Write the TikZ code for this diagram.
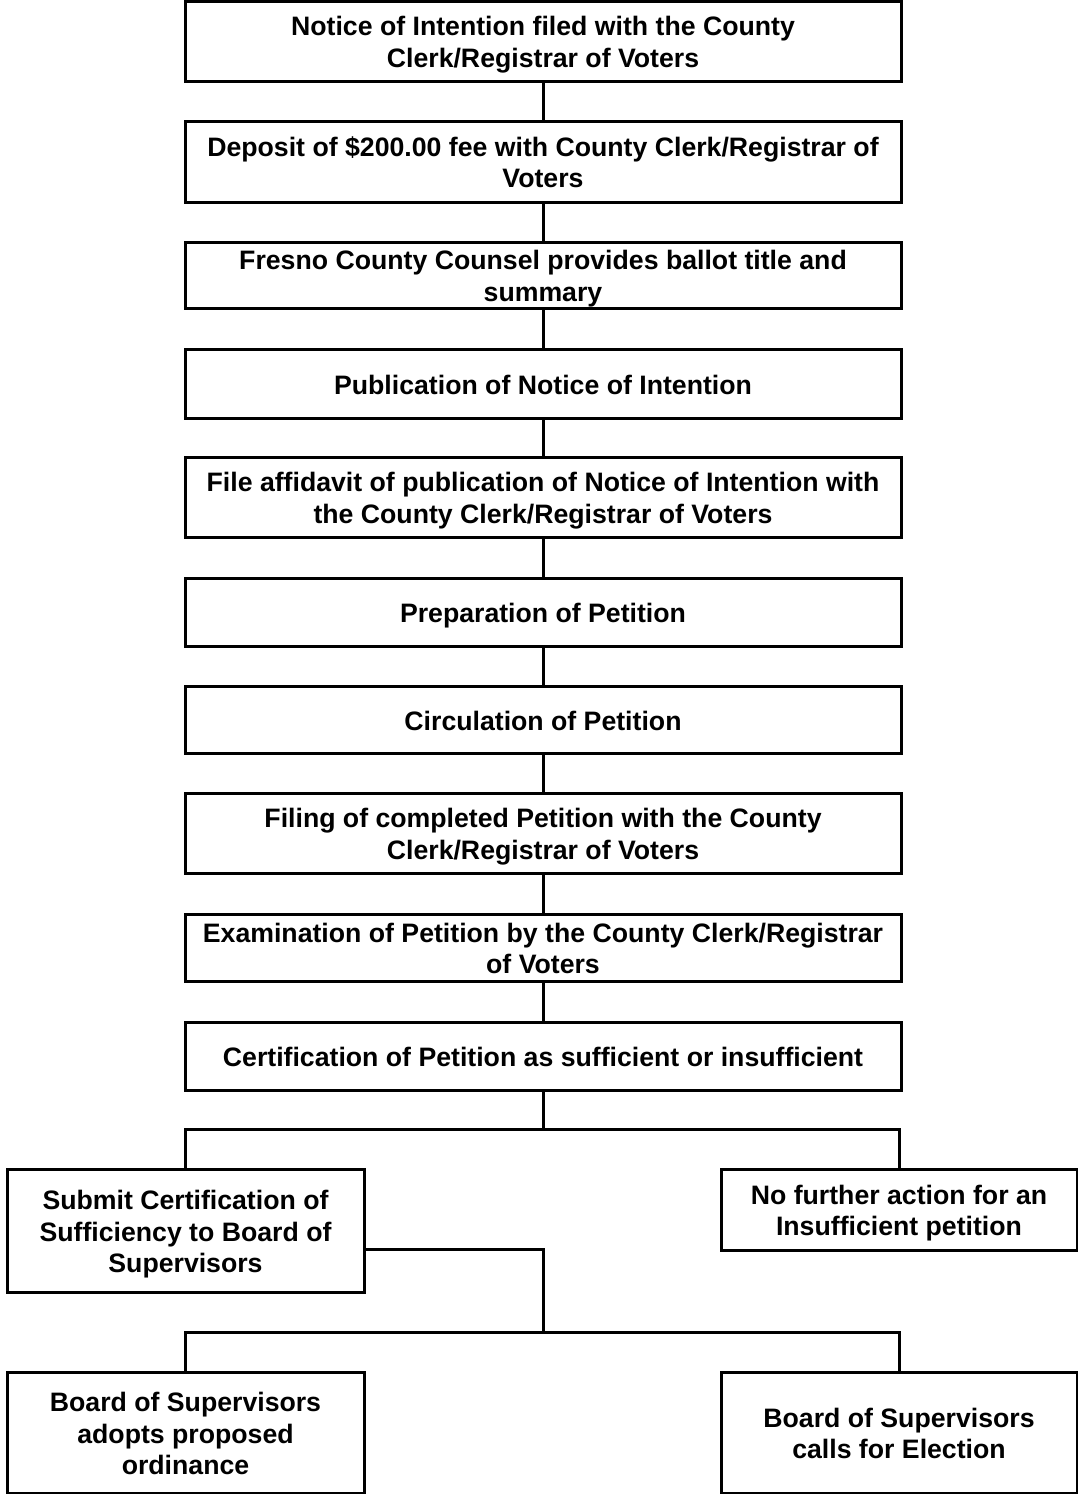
\documentclass[tikz,border=0pt]{standalone}
\usepackage{fontspec}
\setmainfont{Liberation Sans}
\newcommand\boxstrut{\vrule height 27pt depth 6pt width 0pt\relax}
\newcommand\boxfont{\bfseries\fontsize{26.67}{31.3}\selectfont\lineskiplimit=-100pt\relax}
\begin{document}
\begin{tikzpicture}[x=1pt,y=-1pt,
  box/.style={draw, line width=3pt, rectangle, inner sep=0pt, align=center, font=\boxfont},
  mainbox/.style={box, minimum width=716pt},
  sidebox/.style={box, minimum width=357pt},
  link/.style={line width=3pt}]
\useasboundingbox (0,0) rectangle (1078,1494);
\node[mainbox, minimum height=80pt] (n1) at (543,41) {\boxstrut Notice of Intention filed with the County\\\boxstrut Clerk/Registrar of Voters};
\node[mainbox, minimum height=81pt] (n2) at (543,161.5) {\boxstrut Deposit of \$200.00 fee with County Clerk/Registrar of\\\boxstrut Voters};
\node[mainbox, minimum height=66pt] (n3) at (543,275) {\boxstrut Fresno County Counsel provides ballot title and\\\boxstrut summary};
\node[mainbox, minimum height=69pt] (n4) at (543,383.5) {\boxstrut Publication of Notice of Intention};
\node[mainbox, minimum height=80pt] (n5) at (543,497) {\boxstrut File affidavit of publication of Notice of Intention with\\\boxstrut the County Clerk/Registrar of Voters};
\node[mainbox, minimum height=68pt] (n6) at (543,612) {\boxstrut Preparation of Petition};
\node[mainbox, minimum height=67pt] (n7) at (543,719.5) {\boxstrut Circulation of Petition};
\node[mainbox, minimum height=80pt] (n8) at (543,833) {\boxstrut Filing of completed Petition with the County\\\boxstrut Clerk/Registrar of Voters};
\node[mainbox, minimum height=67pt] (n9) at (543,947.5) {\boxstrut Examination of Petition by the County Clerk/Registrar\\\boxstrut of Voters};
\node[mainbox, minimum height=68pt] (n10) at (543,1056) {\boxstrut Certification of Petition as sufficient or insufficient};
\node[sidebox, minimum height=123pt] (s1) at (185.5,1230.5) {\boxstrut Submit Certification of\\\boxstrut Sufficiency to Board of\\\boxstrut Supervisors};
\node[sidebox, minimum height=81pt, minimum width=356pt] (s2) at (899,1209.5) {\boxstrut No further action for an\\\boxstrut Insufficient petition};
\node[sidebox, minimum height=121pt] (b1) at (185.5,1432.5) {\boxstrut Board of Supervisors\\\boxstrut adopts proposed\\\boxstrut ordinance};
\node[sidebox, minimum height=121pt, minimum width=356pt] (b2) at (899,1432.5) {\boxstrut Board of Supervisors\\\boxstrut calls for Election};
\coordinate (j1) at (543,1129);
\coordinate (j2) at (543,1332);
\draw[link] (n1) -- (n2);
\draw[link] (n2) -- (n3);
\draw[link] (n3) -- (n4);
\draw[link] (n4) -- (n5);
\draw[link] (n5) -- (n6);
\draw[link] (n6) -- (n7);
\draw[link] (n7) -- (n8);
\draw[link] (n8) -- (n9);
\draw[link] (n9) -- (n10);
\draw[link] (n10.south) -- (j1);
\draw[link] (s1.north) |- (j1) -| (s2.north);
\draw[link] ([yshift=-18.5pt]s1.east) -| (j2);
\draw[link] (b1.north) |- (j2) -| (b2.north);
\end{tikzpicture}
\end{document}
